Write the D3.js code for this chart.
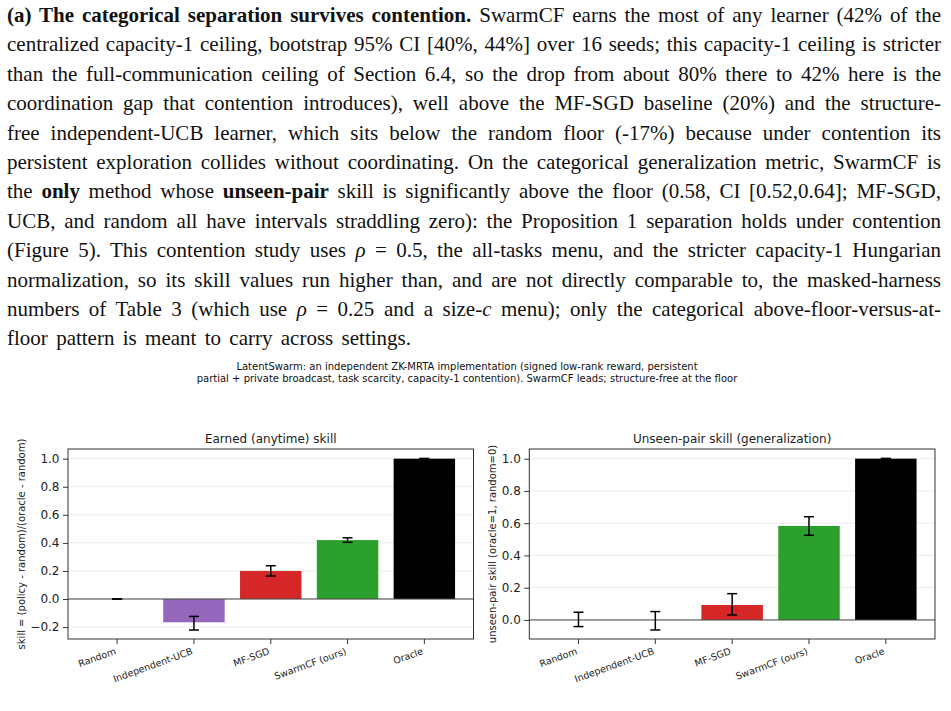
<!DOCTYPE html>
<html>
<head>
<meta charset="utf-8">
<script src="https://cdn.jsdelivr.net/npm/d3@7"></script>
<style>
  body { margin: 0; background: #fff; }
  svg { display: block; }
</style>
</head>
<body>
<div id="chart"></div>
<script>
// categories and values
var methods = ["Random", "Independent-UCB", "MF-SGD", "SwarmCF (ours)", "Oracle"];
var barColors = ["#7f7f7f", "#9467bd", "#d62728", "#2ca02c", "#000000"];

var earnedSkill = [0.0, -0.166, 0.20, 0.42, 1.0];
var earnedLo    = [0.0, -0.221, 0.164, 0.404, 0.998];
var earnedHi    = [0.0, -0.124, 0.237, 0.436, 1.002];

var unseenSkill = [0.0, 0.0, 0.093, 0.583, 1.0];
var unseenLo    = [-0.041, -0.062, 0.031, 0.525, 0.998];
var unseenHi    = [0.048, 0.052, 0.163, 0.640, 1.002];

var earnedTicks = [-0.2, 0.0, 0.2, 0.4, 0.6, 0.8, 1.0];
var unseenTicks = [0.0, 0.2, 0.4, 0.6, 0.8, 1.0];

var captionLines = [
  "LatentSwarm: an independent ZK-MRTA implementation (signed low-rank reward, persistent",
  "partial + private broadcast, task scarcity, capacity-1 contention). SwarmCF leads; structure-free at the floor"
];

// paragraph text, one entry per printed line ("b" bold, "i" italic)
var paraLines = [
  [["(a) The categorical separation survives contention.", "b"], [" SwarmCF earns the most of any learner (42% of the"]],
  [["centralized capacity-1 ceiling, bootstrap 95% CI [40%, 44%] over 16 seeds; this capacity-1 ceiling is stricter"]],
  [["than the full-communication ceiling of Section 6.4, so the drop from about 80% there to 42% here is the"]],
  [["coordination gap that contention introduces), well above the MF-SGD baseline (20%) and the structure-"]],
  [["free independent-UCB learner, which sits below the random floor (-17%) because under contention its"]],
  [["persistent exploration collides without coordinating. On the categorical generalization metric, SwarmCF is"]],
  [["the "], ["only", "b"], [" method whose "], ["unseen-pair", "b"], [" skill is significantly above the floor (0.58, CI [0.52,0.64]; MF-SGD,"]],
  [["UCB, and random all have intervals straddling zero): the Proposition 1 separation holds under contention"]],
  [["(Figure 5). This contention study uses "], ["\u03c1", "i"], [" = 0.5, the all-tasks menu, and the stricter capacity-1 Hungarian"]],
  [["normalization, so its skill values run higher than, and are not directly comparable to, the masked-harness"]],
  [["numbers of Table 3 (which use "], ["\u03c1", "i"], [" = 0.25 and a size-"], ["c", "i"], [" menu); only the categorical above-floor-versus-at-"]],
  [["floor pattern is meant to carry across settings."]]
];

var W = 951, H = 711;
var svg = d3.select("#chart").append("svg")
  .attr("width", W)
  .attr("height", H);

// ---- paragraph ----
var para = svg.append("g")
  .attr("font-family", "'Liberation Serif', 'Times New Roman', serif")
  .attr("font-size", 21)
  .attr("fill", "#111");

paraLines.forEach(function(segs, i) {
  var t = para.append("text")
    .attr("x", 7)
    .attr("y", 22 + i * 29.4)
    .style("white-space", "pre");
  var full = "";
  segs.forEach(function(s) {
    full += s[0];
    t.append("tspan")
      .text(s[0])
      .attr("font-weight", s[1] === "b" ? "bold" : null)
      .attr("font-style", s[1] === "i" ? "italic" : null);
  });
  // justify: spread the leftover width over the word gaps
  var target = (i === paraLines.length - 1) ? 404 : 934;
  var natural = t.node().getComputedTextLength();
  var gaps = full.split(" ").length - 1;
  t.style("word-spacing", ((target - natural) / gaps) + "px");
});

// ---- figure caption ----
svg.append("g")
  .attr("font-family", "'DejaVu Sans', sans-serif")
  .attr("font-size", 10)
  .attr("fill", "#111")
  .selectAll("text")
  .data(captionLines)
  .join("text")
    .attr("x", 467)
    .attr("y", function(d, i) { return 370 + i * 11.5; })
    .attr("text-anchor", "middle")
    .text(function(d) { return d; });

// ---- panels ----
var plotTop = 449, plotBottom = 639;

function drawPanel(cfg) {
  var g = svg.append("g")
    .attr("font-family", "'DejaVu Sans', sans-serif");

  var x = d3.scaleBand()
    .domain(methods)
    .range([cfg.left, cfg.right])
    .paddingInner(0.2)
    .paddingOuter(0.24);

  var y = d3.scaleLinear()
    .domain(cfg.domain)
    .range([plotBottom, plotTop]);

  // light horizontal grid
  g.append("g").selectAll("line")
    .data(cfg.ticks)
    .join("line")
      .attr("x1", cfg.left).attr("x2", cfg.right)
      .attr("y1", function(d) { return y(d); })
      .attr("y2", function(d) { return y(d); })
      .attr("stroke", "#ebebeb")
      .attr("stroke-width", 1);

  var rows = methods.map(function(m, i) {
    return {m: m, v: cfg.values[i], lo: cfg.lo[i], hi: cfg.hi[i], c: barColors[i]};
  });

  // bars
  g.append("g").selectAll("rect")
    .data(rows)
    .join("rect")
      .attr("x", function(d) { return x(d.m); })
      .attr("width", x.bandwidth())
      .attr("y", function(d) { return Math.min(y(d.v), y(0)); })
      .attr("height", function(d) { return Math.abs(y(d.v) - y(0)); })
      .attr("fill", function(d) { return d.c; });

  // zero line
  g.append("line")
    .attr("x1", cfg.left).attr("x2", cfg.right)
    .attr("y1", y(0)).attr("y2", y(0))
    .attr("stroke", "#444")
    .attr("stroke-width", 1);

  // error bars
  var eb = g.append("g").attr("stroke", "#000").attr("stroke-width", 1.5);
  rows.forEach(function(d) {
    var cx = x(d.m) + x.bandwidth() / 2;
    eb.append("line").attr("x1", cx).attr("x2", cx).attr("y1", y(d.lo)).attr("y2", y(d.hi));
    eb.append("line").attr("x1", cx - 5).attr("x2", cx + 5).attr("y1", y(d.lo)).attr("y2", y(d.lo));
    eb.append("line").attr("x1", cx - 5).attr("x2", cx + 5).attr("y1", y(d.hi)).attr("y2", y(d.hi));
  });

  // frame
  g.append("rect")
    .attr("x", cfg.left).attr("y", plotTop)
    .attr("width", cfg.right - cfg.left)
    .attr("height", plotBottom - plotTop)
    .attr("fill", "none")
    .attr("stroke", "#333")
    .attr("stroke-width", 1);

  // y axis
  var ya = g.append("g")
    .attr("transform", "translate(" + cfg.left + ",0)")
    .call(d3.axisLeft(y).tickValues(cfg.ticks).tickFormat(d3.format(".1f")).tickSize(5).tickPadding(3.5));
  ya.select(".domain").remove();
  ya.selectAll("line").attr("stroke", "#333");
  ya.selectAll("text").attr("font-size", 12).attr("fill", "#222").attr("font-family", "'DejaVu Sans', sans-serif");

  // x axis ticks, labels rotated by hand
  var xa = g.append("g")
    .attr("transform", "translate(0," + plotBottom + ")")
    .call(d3.axisBottom(x).tickSize(5).tickFormat(""));
  xa.select(".domain").remove();
  xa.selectAll("line").attr("stroke", "#333");

  g.append("g").selectAll("text")
    .data(methods)
    .join("text")
      .attr("transform", function(d) {
        return "translate(" + (x(d) + x.bandwidth() / 2 - 3) + "," + (plotBottom + 8) + ") rotate(-20)";
      })
      .attr("text-anchor", "end")
      .attr("dy", "0.76em")
      .attr("font-size", 9.5)
      .attr("fill", "#222")
      .text(function(d) { return d; });

  // title
  g.append("text")
    .attr("x", (cfg.left + cfg.right) / 2)
    .attr("y", plotTop - 6)
    .attr("text-anchor", "middle")
    .attr("font-size", 12)
    .attr("fill", "#222")
    .text(cfg.title);

  // y label
  g.append("text")
    .attr("transform", "translate(" + cfg.labelX + "," + ((plotTop + plotBottom) / 2) + ") rotate(-90)")
    .attr("text-anchor", "middle")
    .attr("dy", "0.35em")
    .attr("font-size", 10)
    .attr("fill", "#222")
    .text(cfg.ylabel);
}

drawPanel({
  left: 68, right: 473.5,
  domain: [-0.285, 1.069],
  ticks: earnedTicks,
  values: earnedSkill, lo: earnedLo, hi: earnedHi,
  title: "Earned (anytime) skill",
  ylabel: "skill = (policy - random)/(oracle - random)",
  labelX: 21
});

drawPanel({
  left: 529.3, right: 935,
  domain: [-0.118, 1.06],
  ticks: unseenTicks,
  values: unseenSkill, lo: unseenLo, hi: unseenHi,
  title: "Unseen-pair skill (generalization)",
  ylabel: "unseen-pair skill (oracle=1, random=0)",
  labelX: 492
});
</script>
</body>
</html>
